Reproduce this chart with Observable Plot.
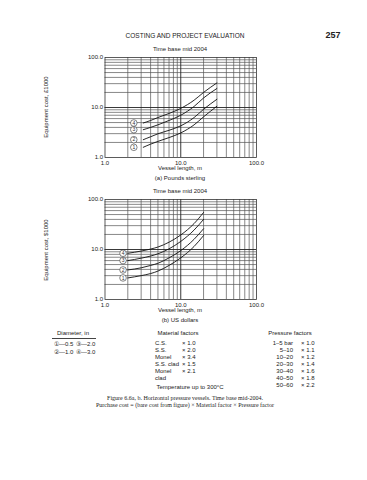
<!DOCTYPE html>
<html><head><meta charset="utf-8">
<script src="https://cdn.jsdelivr.net/npm/d3@7"></script>
<script src="https://cdn.jsdelivr.net/npm/@observablehq/plot@0.6"></script>
<style>
body{margin:0;background:#fff;}
#page{position:relative;width:367px;height:480px;font-family:"Liberation Sans",Arial,sans-serif;color:#222;overflow:hidden;background:#fff}
.t{position:absolute;white-space:nowrap;line-height:1}
.c{transform:translateX(-50%)}
.ch{position:absolute;left:0}
.serif{font-family:"Liberation Serif","Times New Roman",serif}
</style></head><body><div id="page"></div>
<script>
// ---------- data ----------
const curveIds = ["1", "2", "3", "4"];
const diameters = ["0.5", "1.0", "2.0", "3.0"];

// (a) Pounds sterling
const lengthsA = [3.2, 4, 5, 7, 10, 15, 20, 30];
const costA1 = [1.6, 1.85, 2.1, 2.5, 3.1, 4.5, 6.5, 10.6];
const costA2 = [2.27, 2.6, 2.98, 3.5, 4.3, 6.3, 9.2, 14.6];
const costA3 = [3.6, 4.0, 4.5, 5.5, 7.0, 10.5, 15.5, 24];
const costA4 = [4.9, 5.5, 6.3, 7.6, 9.6, 14, 20, 31];

// (b) US dollars
const lengthsB = [2, 3, 4, 5, 7, 10, 15, 20];
const costB1 = [2.7, 3.0, 3.3, 3.7, 4.8, 6.8, 11.5, 19];
const costB2 = [3.9, 4.3, 4.8, 5.3, 6.8, 9.5, 16, 26];
const costB3 = [6.0, 6.7, 7.4, 8.2, 10.3, 14.5, 24.5, 40];
const costB4 = [8.4, 9.3, 10.2, 11.2, 14, 19.5, 33, 55];

const axisTicks = [1, 10, 100];
const materials = ["C.S.", "S.S.", "Monel", "S.S. clad", "Monel", "clad"];
const materialFactors = ["× 1.0", "× 2.0", "× 3.4", "× 1.5", "× 2.1", ""];
const pressureRanges = ["1–5 bar", "5–10", "10–20", "20–30", "30–40", "40–50", "50–60"];
const pressureFactors = ["× 1.0", "× 1.1", "× 1.2", "× 1.4", "× 1.6", "× 1.8", "× 2.2"];

// ---------- helpers ----------
const page = document.getElementById("page");
function txt(s, x, y, size, opts = {}) {
  const d = document.createElement("div");
  d.className = "t" + (opts.center ? " c" : "") + (opts.serif ? " serif" : "");
  d.textContent = s;
  d.style.left = x + "px"; d.style.top = y + "px"; d.style.fontSize = size + "px";
  if (opts.bold) d.style.fontWeight = "bold";
  if (opts.rotate) { d.style.transform = "translate(-50%,-50%) rotate(-90deg)"; }
  if (opts.right) { d.style.transform = "translateX(-100%)"; }
  page.appendChild(d);
  return d;
}
const gridVals = [];
for (const dec of [1, 10]) for (let k = 2; k <= 9; k++) gridVals.push(k * dec);

function chart(lengths, series, labelX, top) {
  const data = [];
  series.forEach((vals, i) => lengths.forEach((x, j) => data.push({id: curveIds[i], x, y: vals[j]})));
  const labels = series.map((vals, i) => ({id: curveIds[i], x: labelX, y: vals[0]}));
  const p = Plot.plot({
    width: 367, height: 120,
    marginLeft: 104.5, marginRight: 111, marginTop: 7, marginBottom: 13,
    style: {fontFamily: "Liberation Sans, Arial, sans-serif", fontSize: "6px", color: "#222", background: "transparent"},
    x: {type: "log", domain: [1, 100]},
    y: {type: "log", domain: [1, 100]},
    marks: [
      Plot.ruleX(gridVals, {stroke: "#555", strokeWidth: 0.7}),
      Plot.ruleY(gridVals, {stroke: "#555", strokeWidth: 0.7}),
      Plot.ruleX([10], {stroke: "#222", strokeWidth: 0.9}),
      Plot.ruleY([10], {stroke: "#222", strokeWidth: 0.9}),
      Plot.frame({stroke: "#333", strokeWidth: 0.8}),
      Plot.line(data, {x: "x", y: "y", z: "id", curve: "monotone-x", stroke: "#111", strokeWidth: 0.9}),
      Plot.dot(labels, {x: "x", y: "y", r: 3.3, stroke: "#333", strokeWidth: 0.6, fill: "white"}),
      Plot.text(labels, {x: "x", y: "y", text: "id", fontSize: 5, fill: "#333"}),
      Plot.axisX(axisTicks, {tickSize: 0, tickPadding: 3, tickFormat: d3.format(".1f"), label: null}),
      Plot.axisY(axisTicks, {tickSize: 0, tickPadding: 2, tickFormat: d3.format(".1f"), label: null})
    ]
  });
  p.classList.add("ch");
  p.style.top = top + "px";
  page.appendChild(p);
}

// ---------- page ----------
txt("COSTING AND PROJECT EVALUATION", 185, 33, 6.5, {center: true});
txt("257", 333, 31, 9, {center: true, bold: true});

txt("Time base mid 2004", 180, 46, 6, {center: true});
chart(lengthsA, [costA1, costA2, costA3, costA4], 2.4, 50);
txt("Equipment cost, £1000", 46, 107, 6, {rotate: true});
txt("Vessel length, m", 180, 165, 6, {center: true});
txt("(a) Pounds sterling", 180, 175, 6, {center: true});

txt("Time base mid 2004", 180, 188, 6, {center: true});
chart(lengthsB, [costB1, costB2, costB3, costB4], 1.73, 192);
txt("Equipment cost, $1000", 46, 250, 6, {rotate: true});
txt("Vessel length, m", 180, 307, 6, {center: true});
txt("(b) US dollars", 180, 317, 6, {center: true});

// legend: diameters
txt("Diameter, in", 73, 330, 6, {center: true});
const hr = document.createElement("div");
hr.style.cssText = "position:absolute;left:52px;top:338px;width:44px;height:0;border-top:0.7px solid #444";
page.appendChild(hr);
const circ = ["①", "②", "③", "④"];
[[0, 2], [1, 3]].forEach((pair, r) => {
  pair.forEach((k, c) => txt(circ[k] + "—" + diameters[k], 54 + c * 22, 341 + r * 8, 6));
});
// legend: materials
txt("Material factors", 178, 330, 6, {center: true});
materials.forEach((m, i) => {
  txt(m, 155, 340 + i * 7, 6);
  if (materialFactors[i]) txt(materialFactors[i], 182, 340 + i * 7, 6);
});
// legend: pressures
txt("Pressure factors", 290, 330, 6, {center: true});
pressureRanges.forEach((r, i) => {
  txt(r, 293, 340 + i * 7, 6, {right: true});
  txt(pressureFactors[i], 301, 340 + i * 7, 6);
});
txt("Temperature up to 300°C", 190, 384, 6, {center: true});

txt("Figure 6.6a, b.   Horizontal pressure vessels. Time base mid-2004.", 185, 395, 6, {center: true, serif: true});
txt("Purchase cost = (bare cost from figure) × Material factor × Pressure factor", 185, 402, 6, {center: true, serif: true});
</script></body></html>
